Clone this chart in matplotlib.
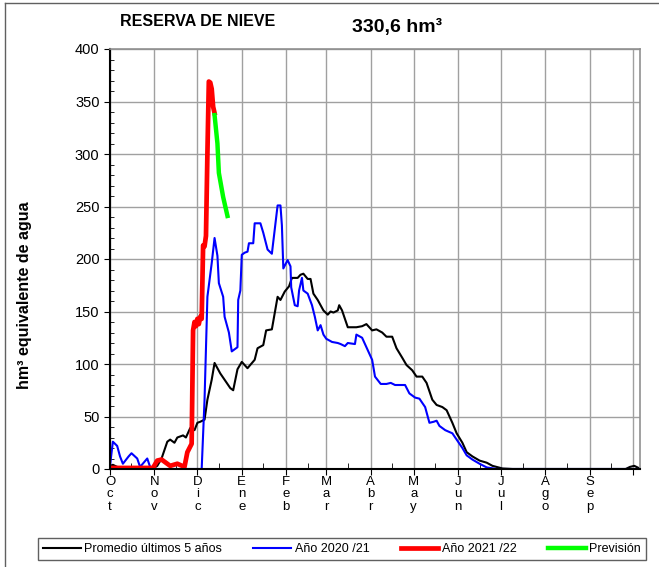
import numpy as np
import matplotlib
matplotlib.use("Agg")
import matplotlib.pyplot as plt
from matplotlib.lines import Line2D

plt.rcParams['font.family'] = ['Liberation Sans', 'DejaVu Sans']

# days counted from 1 October
months = ["O\nc\nt", "N\no\nv", "D\ni\nc", "E\nn\ne", "F\ne\nb", "M\na\nr",
          "A\nb\nr", "M\na\ny", "J\nu\nn", "J\nu\nl", "A\ng\no", "S\ne\np", ""]
month_start = [0, 31, 61, 92, 123, 151, 182, 212, 243, 273, 304, 335, 365]

avg_day = [0, 2, 5, 10, 20, 30, 33, 36, 40, 42, 45, 47, 51, 53, 56, 59, 61, 63, 66, 68,
           71, 73, 77, 80, 84, 86, 89, 92, 96, 101, 103, 107, 109, 113, 117, 119, 122,
           125, 127, 131, 133, 135, 138, 140, 142, 145, 149, 152, 154, 156, 159, 160,
           162, 166, 169, 172, 176, 179, 183, 186, 190, 193, 197, 200, 204, 207, 211,
           214, 218, 221, 225, 228, 232, 235, 239, 242, 246, 249, 253, 258, 263, 267,
           274, 281, 360, 363, 366, 369]
avg_val = [3, 4, 2, 1, 0.5, 0.5, 3, 10, 26, 28, 25, 30, 32, 30, 39, 37, 44, 45, 47, 66,
           85, 101, 91, 85, 77, 75, 95, 102, 96, 104, 115, 118, 132, 133, 164, 161, 169,
           174, 182, 182, 185, 186, 181, 181, 167, 161, 151, 147, 150, 149, 151, 156,
           151, 135, 135, 135, 136, 138, 132, 133, 130, 126, 126, 115, 106, 99, 94,
           88, 88, 82, 66, 61, 59, 56, 44, 34, 25, 16, 12, 8, 6, 3,
           0.5, 0, 0, 2, 3, 1]

y2021_day = [0, 2, 5, 7, 9, 13, 15, 19, 21, 26, 28, 30, 64, 66, 68, 71, 73, 75, 76, 79,
             80, 83, 85, 89, 89.5, 91, 92, 94, 96, 97, 100, 101, 105, 107, 110, 113, 117,
             119, 120, 121, 124, 126, 126.5, 129, 131, 132, 134, 135, 138, 141, 143, 145,
             147, 149, 151, 155, 159, 161, 164, 166, 171, 172, 176, 180, 183, 185, 189,
             193, 196, 199, 206, 209, 213, 216, 220, 223, 226, 228, 230, 234, 239, 242,
             246, 249, 253, 258, 263, 270, 369]
y2021_val = [3, 26, 22, 12, 5, 12, 15, 10, 2, 10, 2, 0, 0, 66, 164, 196, 220, 203, 177, 164,
             145, 130, 112, 116, 161, 170, 204, 206, 207, 215, 215, 234, 234, 225, 209, 205,
             251, 251, 232, 191, 199, 193, 173, 156, 155, 170, 182, 170, 167, 156, 145, 132,
             137, 128, 124, 121, 120, 119, 117, 120, 119, 128, 125, 113, 104, 88, 81,
             81, 82, 80, 80, 72, 68, 67, 59, 44, 45, 46, 41, 37, 34, 28,
             20, 13, 9, 5, 1.5, 0, 0]

y2122_day = [0, 30, 33, 36, 42, 47, 52, 54, 57, 58, 59, 60, 61, 62, 63, 64, 65, 66, 67,
             68, 69, 70, 71, 72, 73]
y2122_val = [1, 1, 8, 9, 3, 5, 2, 16, 24, 132, 140, 136, 143, 138, 145, 143, 213, 212, 222,
             300, 369, 368, 362, 345, 339]

prev_day = [73, 75, 76, 79, 82]
prev_val = [337, 310, 282, 259, 241]

fig = plt.figure(figsize=(6.59, 5.67), dpi=100)
ax = fig.add_axes([110 / 659, 1 - 469 / 567, 530 / 659, 420 / 567])

ax.plot(avg_day, avg_val, color="black", lw=1.5, label="Promedio últimos 5 años")
ax.plot(y2021_day, y2021_val, color="#0000ff", lw=1.5, label="Año 2020 /21")
ax.plot(y2122_day, y2122_val, color="#ff0000", lw=3.4, label="Año 2021 /22")
ax.plot(prev_day, prev_val, color="#00ff00", lw=3.2, label="Previsión")

ax.set_xlim(0, 370)
ax.set_ylim(0, 400)
ax.set_xticks(month_start, labels=months)
ax.set_xticks([m + 15 for m in month_start[:-1]], minor=True)
ax.set_yticks(np.arange(0, 401, 50))
ax.set_yticks(np.arange(0, 401, 10), minor=True)
ax.tick_params(axis="x", which="major", direction="out", length=4, labelsize=9.5, pad=1)
ax.tick_params(axis="x", which="minor", direction="in", length=4)
ax.tick_params(axis="y", which="major", direction="out", length=4, labelsize=10.5)
ax.tick_params(axis="y", which="minor", direction="in", length=3)
for lab in ax.get_xticklabels():
    lab.set_linespacing(1.05)
ax.grid(True, which="major", color="#a0a0a0", lw=1)
for s in ["left", "bottom"]:
    ax.spines[s].set_linewidth(1.5)
for s in ["top", "right"]:
    ax.spines[s].set_color("#909090")
    ax.spines[s].set_linewidth(1.2)

fig.text(25 / 659, 1 - 295 / 567, "hm³ equivalente de agua", rotation=90,
         ha="center", va="center", fontsize=11.5, fontweight="bold")
fig.text(120 / 659, 1 - 22 / 567, "RESERVA DE NIEVE", ha="left", va="center",
         fontsize=11.5, fontweight="bold")
fig.text(352 / 659, 1 - 27 / 567, "330,6 hm³", ha="left", va="center",
         fontsize=14, fontweight="bold")

fig.legend(loc="lower left", bbox_to_anchor=(38 / 659, 1 - 560 / 567, 608 / 659, 27 / 567),
           mode="expand", ncol=4, fontsize=9, frameon=True, fancybox=False,
           edgecolor="#606060", framealpha=1, handlelength=3, handletextpad=0.3,
           borderaxespad=0)

# frame of the original picture
fig.add_artist(Line2D([5 / 659, 1], [1 - 3 / 567, 1 - 3 / 567], color="#606060", lw=1))
fig.add_artist(Line2D([5 / 659, 5 / 659], [0, 1 - 3 / 567], color="#606060", lw=1))

fig.savefig("out.png", dpi=100)
